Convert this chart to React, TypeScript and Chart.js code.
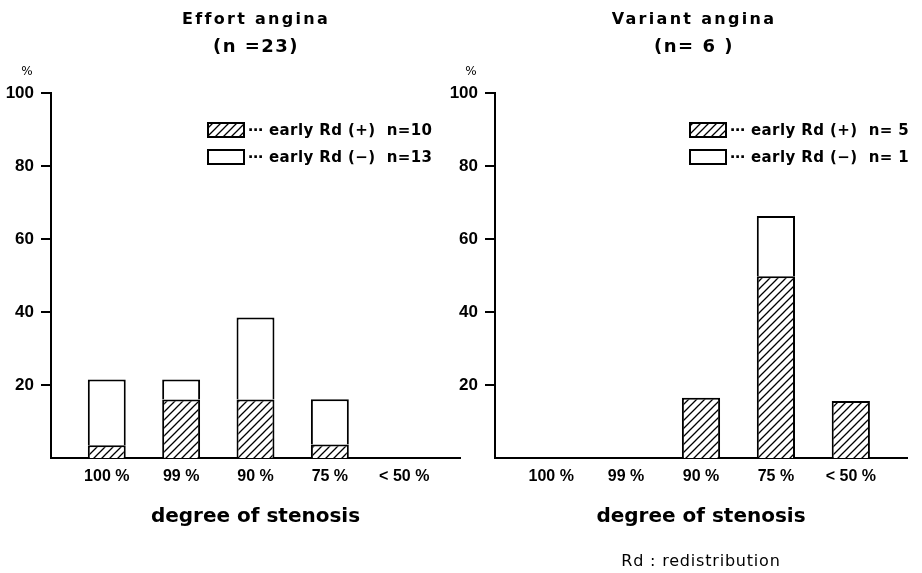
import React, { useEffect, useRef } from 'react';
import { Chart, registerables } from 'chart.js';

Chart.register(...registerables);

// ---- data ----
const CATEGORIES = ['100 %', '99 %', '90 %', '75 %', '< 50 %'];
const Y_TICKS = [20, 40, 60, 80, 100];
const EFFORT_POS = [3.5, 16, 16, 3.7, 0];
const EFFORT_NEG = [18, 5.5, 22.5, 12.4, 0];
const VARIANT_POS = [0, 0, 16.5, 49.8, 15.6];
const VARIANT_NEG = [0, 0, 0, 16.5, 0];
const EFFORT_TITLE = ['Effort angina', '(n =23)'];
const VARIANT_TITLE = ['Variant angina', '(n= 6 )'];
const EFFORT_LEGEND = ['early Rd (+)  n=10', 'early Rd (\u2212)  n=13'];
const VARIANT_LEGEND = ['early Rd (+)  n= 5', 'early Rd (\u2212)  n= 1'];
const X_TITLE = 'degree of stenosis';
const Y_UNIT = '%';
const FOOTNOTE = 'Rd : redistribution';

const TICK_FONT = '"Liberation Sans", Arial, sans-serif';
const WIDE_FONT = '"DejaVu Sans", sans-serif';
const H = 573;

function makeHatch(ctx: CanvasRenderingContext2D): CanvasPattern {
  const c = document.createElement('canvas');
  c.width = 8;
  c.height = 8;
  const g = c.getContext('2d')!;
  g.fillStyle = '#fff';
  g.fillRect(0, 0, 8, 8);
  g.strokeStyle = '#000';
  g.lineWidth = 1.3;
  g.beginPath();
  g.moveTo(0, 8); g.lineTo(8, 0);
  g.moveTo(-2, 2); g.lineTo(2, -2);
  g.moveTo(6, 10); g.lineTo(10, 6);
  g.stroke();
  return ctx.createPattern(c, 'repeat')!;
}

const annotPlugin = {
  id: 'annot',
  afterDraw(chart: any, _args: any, opts: any) {
    const { ctx, chartArea } = chart;
    ctx.save();
    ctx.fillStyle = '#000';
    ctx.textBaseline = 'middle';

    // titles
    ctx.textAlign = 'center';
    opts.title.forEach((line: string, i: number) => {
      ctx.font = i === 0 ? `bold 16px ${WIDE_FONT}` : `bold 18px ${WIDE_FONT}`;
      (ctx as any).letterSpacing = i === 0 ? '2.3px' : '1.5px';
      ctx.fillText(line, opts.titleX, opts.titleY + i * opts.titleGap);
    });

    // unit label
    (ctx as any).letterSpacing = '0px';
    ctx.font = `12px ${WIDE_FONT}`;
    ctx.fillText(opts.unit, chartArea.left - 24, opts.unitY);

    // legend
    const x0 = chartArea.left + opts.legendX;
    chart.data.datasets.forEach((ds: any, i: number) => {
      const y = opts.legendY + i * opts.legendGap;
      ctx.fillStyle = ds.backgroundColor;
      ctx.fillRect(x0, y, 38, 16);
      ctx.lineWidth = 2;
      ctx.strokeStyle = '#000';
      ctx.strokeRect(x0 + 1, y + 1, 36, 14);
      ctx.fillStyle = '#000';
      ctx.textAlign = 'left';
      ctx.font = `bold 15px ${WIDE_FONT}`;
      (ctx as any).letterSpacing = '0.4px';
      ctx.fillText('\u22ef ' + ds.label, x0 + 41, y + 9);
    });

    if (opts.footnote) {
      ctx.textAlign = 'center';
      ctx.font = `16px ${WIDE_FONT}`;
      (ctx as any).letterSpacing = '0.8px';
      ctx.fillText(opts.footnote, opts.footX, opts.footY);
    }
    ctx.restore();
  },
};

interface PanelProps {
  left: number;
  width: number;
  yWidth: number;
  padRight: number;
  title: string[];
  titleX: number;
  pos: number[];
  neg: number[];
  legend: string[];
  legendX: number;
  footnote?: string;
  footX?: number;
}

function BarPanel(p: PanelProps) {
  const ref = useRef<HTMLCanvasElement>(null);
  useEffect(() => {
    const canvas = ref.current!;
    const ctx = canvas.getContext('2d')!;
    const hatch = makeHatch(ctx);
    const chart = new Chart(canvas, {
      type: 'bar',
      data: {
        datasets: [
          {
            label: p.legend[0],
            data: p.pos.map((v, i) => ({ x: i, y: v })),
            backgroundColor: hatch as any,
            borderColor: '#000',
            borderWidth: 2,
            borderSkipped: 'start',
            barPercentage: 0.51,
            categoryPercentage: 1,
          },
          {
            label: p.legend[1],
            data: p.neg.map((v, i) => ({ x: i, y: v })),
            backgroundColor: '#fff',
            borderColor: '#000',
            borderWidth: 2,
            borderSkipped: 'start',
            barPercentage: 0.51,
            categoryPercentage: 1,
          },
        ],
      },
      options: {
        responsive: false,
        animation: false,
        devicePixelRatio: 1,
        layout: { padding: { left: 0, right: p.padRight, top: 93, bottom: 0 } },
        scales: {
          x: {
            type: 'linear',
            min: -0.75,
            max: 4.75,
            stacked: true,
            offset: false,
            afterBuildTicks: (s: any) => {
              s.ticks = CATEGORIES.map((_, i) => ({ value: i }));
            },
            afterFit: (s: any) => {
              s.height = 115;
            },
            grid: { display: false, drawTicks: false },
            border: { display: true, color: '#000', width: 2 },
            ticks: {
              callback: (v: any) => CATEGORIES[v] ?? '',
              font: { family: TICK_FONT, size: 16, weight: 'bold' },
              color: '#000',
              padding: 9,
              autoSkip: false,
              maxRotation: 0,
            },
            title: {
              display: true,
              text: X_TITLE,
              font: { family: WIDE_FONT, size: 20, weight: 'bold', lineHeight: 1.2 },
              color: '#000',
              padding: { top: 0, bottom: 44 },
            },
          },
          y: {
            min: 0,
            max: 100,
            stacked: true,
            afterBuildTicks: (s: any) => {
              s.ticks = Y_TICKS.map((v) => ({ value: v }));
            },
            afterFit: (s: any) => {
              s.width = p.yWidth;
            },
            grid: { drawOnChartArea: false, drawTicks: true, tickLength: 10, lineWidth: 2, color: '#000' },
            border: { display: true, color: '#000', width: 2 },
            ticks: {
              font: { family: TICK_FONT, size: 17, weight: 'bold' },
              color: '#000',
              padding: 7,
            },
          },
        },
        plugins: {
          legend: { display: false },
          tooltip: { enabled: false },
          title: { display: false },
          annot: {
            title: p.title,
            titleX: p.titleX,
            titleY: 20,
            titleGap: 27,
            unit: Y_UNIT,
            unitY: 72,
            legendX: p.legendX,
            legendY: 122,
            legendGap: 27,
            footnote: p.footnote,
            footX: p.footX,
            footY: 562,
          },
        } as any,
      },
      plugins: [annotPlugin],
    } as any);
    return () => chart.destroy();
  }, []);
  return (
    <div style={{ position: 'absolute', left: p.left, top: 0, width: p.width, height: H }}>
      <canvas ref={ref} width={p.width} height={H} style={{ display: 'block' }} />
    </div>
  );
}

export default function App() {
  return (
    <div style={{ position: 'fixed', left: 0, top: 0, width: 922, height: H, background: '#fff', overflow: 'hidden' }}>
      <BarPanel
        left={0}
        width={462}
        yWidth={51}
        padRight={2}
        title={EFFORT_TITLE}
        titleX={256}
        pos={EFFORT_POS}
        neg={EFFORT_NEG}
        legend={EFFORT_LEGEND}
        legendX={156}
      />
      <BarPanel
        left={448}
        width={474}
        yWidth={47}
        padRight={15}
        title={VARIANT_TITLE}
        titleX={246}
        pos={VARIANT_POS}
        neg={VARIANT_NEG}
        legend={VARIANT_LEGEND}
        legendX={194}
        footnote={FOOTNOTE}
        footX={253}
      />
    </div>
  );
}
